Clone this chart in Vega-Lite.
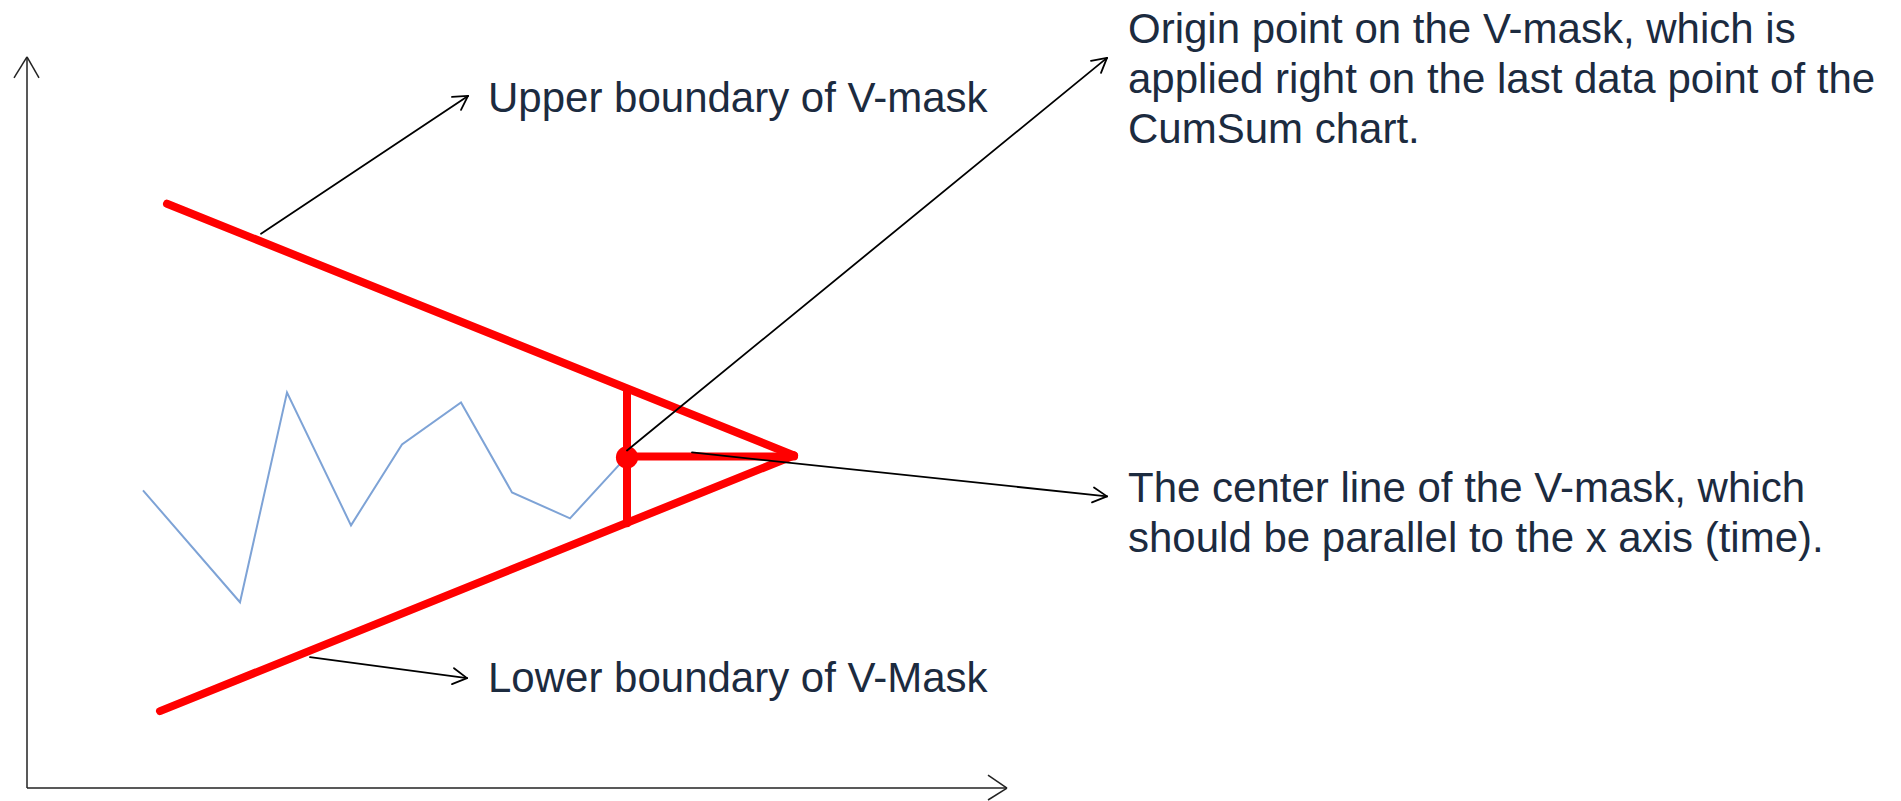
{
  "$schema": "https://vega.github.io/schema/vega-lite/v6.json",
  "width": 1901,
  "height": 801,
  "autosize": {"type": "fit", "contains": "padding"},
  "padding": 0,
  "background": "white",
  "config": {"view": {"stroke": null}},
  "datasets": {
    "axes": [
      {"x": 27, "y": 789, "x2": 27, "y2": 57},
      {"x": 14, "y": 78, "x2": 27, "y2": 57},
      {"x": 39, "y": 78, "x2": 27, "y2": 57},
      {"x": 27, "y": 789, "x2": 1007, "y2": 789},
      {"x": 988, "y": 776, "x2": 1007, "y2": 789},
      {"x": 988, "y": 801, "x2": 1007, "y2": 789}
    ],
    "cusum": [
      {"t": 1, "x": 143, "y": 491},
      {"t": 2, "x": 240, "y": 603},
      {"t": 3, "x": 287, "y": 393},
      {"t": 4, "x": 351, "y": 526},
      {"t": 5, "x": 402, "y": 445},
      {"t": 6, "x": 461, "y": 403},
      {"t": 7, "x": 512, "y": 493},
      {"t": 8, "x": 570, "y": 519},
      {"t": 9, "x": 626, "y": 458}
    ],
    "vmask": [
      {"part": "upper", "x": 167, "y": 204, "x2": 794, "y2": 456},
      {"part": "lower", "x": 160, "y": 712, "x2": 794, "y2": 456},
      {"part": "center", "x": 627, "y": 457, "x2": 794, "y2": 457},
      {"part": "vertical", "x": 627, "y": 390, "x2": 627, "y2": 524}
    ],
    "origin": [{"x": 627, "y": 458}],
    "arrows": [
      {"x": 261, "y": 234, "x2": 468, "y2": 96},
      {"x": 452, "y": 97, "x2": 468, "y2": 96},
      {"x": 461, "y": 110, "x2": 468, "y2": 96},
      {"x": 627, "y": 451, "x2": 1107, "y2": 58},
      {"x": 1091, "y": 61, "x2": 1107, "y2": 58},
      {"x": 1101, "y": 73, "x2": 1107, "y2": 58},
      {"x": 692, "y": 453, "x2": 1107, "y2": 497},
      {"x": 1094, "y": 488, "x2": 1107, "y2": 497},
      {"x": 1092, "y": 503, "x2": 1107, "y2": 497},
      {"x": 310, "y": 658, "x2": 467, "y2": 679},
      {"x": 454, "y": 669, "x2": 467, "y2": 679},
      {"x": 452, "y": 685, "x2": 467, "y2": 679}
    ],
    "labels": [
      {"x": 488, "y": 112, "text": "Upper boundary of V-mask"},
      {"x": 488, "y": 693, "text": "Lower boundary of V-Mask"},
      {"x": 1128, "y": 43, "text": "Origin point on the V-mask, which is"},
      {"x": 1128, "y": 93, "text": "applied right on the last data point of the"},
      {"x": 1128, "y": 143, "text": "CumSum chart."},
      {"x": 1128, "y": 503, "text": "The center line of the V-mask, which"},
      {"x": 1128, "y": 553, "text": "should be parallel to the x axis (time)."}
    ]
  },
  "encoding": {
    "x": {"field": "x", "type": "quantitative", "scale": {"domain": [0, 1901], "nice": false, "zero": false}, "axis": null},
    "y": {"field": "y", "type": "quantitative", "scale": {"domain": [0, 801], "nice": false, "zero": false, "reverse": true}, "axis": null}
  },
  "layer": [
    {
      "data": {"name": "axes"},
      "mark": {"type": "rule", "color": "#222222", "strokeWidth": 1.5},
      "encoding": {"x2": {"field": "x2"}, "y2": {"field": "y2"}}
    },
    {
      "data": {"name": "cusum"},
      "mark": {"type": "line", "color": "#7ea3d6", "strokeWidth": 2},
      "encoding": {"order": {"field": "t", "type": "quantitative"}}
    },
    {
      "data": {"name": "vmask"},
      "mark": {"type": "rule", "color": "#ff0000", "strokeWidth": 8, "strokeCap": "round"},
      "encoding": {"x2": {"field": "x2"}, "y2": {"field": "y2"}}
    },
    {
      "data": {"name": "origin"},
      "mark": {"type": "point", "filled": true, "color": "#ff0000", "size": 490, "opacity": 1},
      "encoding": {}
    },
    {
      "data": {"name": "arrows"},
      "mark": {"type": "rule", "color": "#000000", "strokeWidth": 1.8, "strokeCap": "round"},
      "encoding": {"x2": {"field": "x2"}, "y2": {"field": "y2"}}
    },
    {
      "data": {"name": "labels"},
      "mark": {"type": "text", "align": "left", "baseline": "alphabetic", "font": "Liberation Sans", "fontSize": 42, "color": "#1c2b3f"},
      "encoding": {"text": {"field": "text"}}
    }
  ]
}
